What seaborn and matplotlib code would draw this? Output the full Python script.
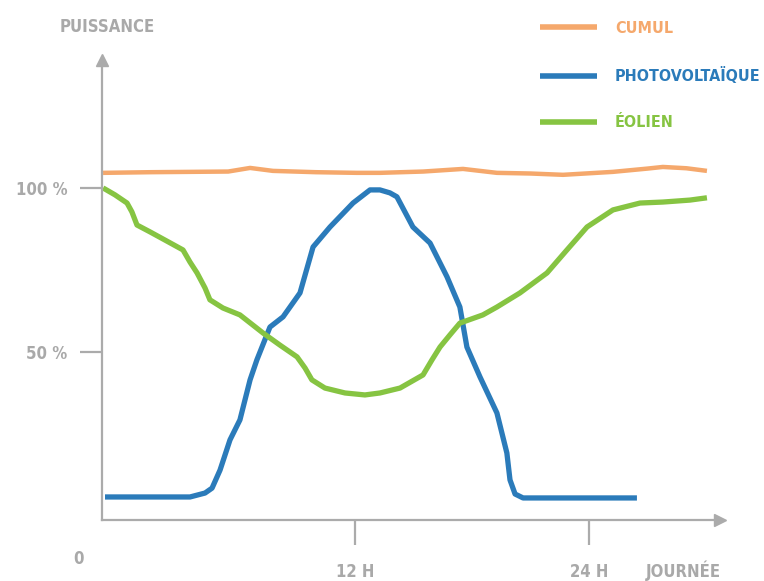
import numpy as np
import matplotlib
matplotlib.use("Agg")
import matplotlib.pyplot as plt
import seaborn as sns

# heures (x) et puissance en % (y)
cumul_h = [-0.92, 1.5, 3.54, 5.5, 6.62, 7.79, 10.0, 12.10, 13.28, 15.5, 17.54, 19.28, 21.0, 22.67, 25.23, 27.0, 27.79, 29.0, 30.05]
cumul_p = [104.6, 104.8, 104.9, 105.0, 106.1, 105.2, 104.8, 104.6, 104.6, 105.0, 105.8, 104.6, 104.4, 104.0, 104.9, 105.9, 106.4, 106.0, 105.2]

pv_h = [-0.82, 3.54, 4.31, 4.67, 5.08, 5.59, 6.10, 6.62, 6.97, 7.64, 8.31, 9.18, 9.85, 10.72,
        11.90, 12.77, 13.28, 13.79, 14.15, 14.97, 15.85, 16.72, 17.38, 17.74, 18.41, 19.28,
        19.79, 19.95, 20.21, 20.62, 26.46]
pv_p = [5.8, 5.8, 7.0, 8.5, 14.0, 23.2, 29.3, 41.5, 47.6, 57.6, 60.7, 68.0, 82.0, 88.1,
        95.4, 99.4, 99.4, 98.5, 97.3, 88.1, 83.2, 72.9, 63.7, 51.5, 42.4, 31.4,
        19.2, 11.0, 6.7, 5.5, 5.5]

eol_h = [-0.92, -0.31, 0.31, 0.56, 0.82, 1.49, 2.26, 3.18, 3.54, 3.90, 4.31, 4.56, 5.23, 6.10,
         7.28, 8.15, 9.03, 9.44, 9.79, 10.46, 11.49, 12.51, 13.28, 14.31, 15.49, 15.95, 16.36,
         16.87, 17.38, 18.56, 19.28, 20.46, 21.85, 22.87, 23.90, 25.23, 26.62, 27.79, 29.18, 30.05]
eol_p = [100.0, 97.9, 95.4, 92.7, 88.7, 86.6, 84.1, 81.1, 77.4, 74.1, 69.5, 65.9, 63.4, 61.3,
         55.8, 52.1, 48.5, 45.1, 41.5, 39.0, 37.5, 36.9, 37.5, 39.0, 43.0, 47.6, 51.5,
         55.2, 58.8, 61.3, 63.7, 68.0, 74.1, 81.1, 88.1, 93.3, 95.4, 95.7, 96.3, 97.0]

x_ticks = [12, 24]
x_labels = ["12 H", "24 H"]
y_ticks = [50, 100]
y_labels = ["50 %", "100 %"]

ORANGE = "#f5a86c"
BLUE = "#2b7bba"
GREEN = "#86c442"
GRAY = "#ababab"
TXT = "#a9a9a9"

sns.set_theme(style="white")
plt.rcParams["font.family"] = ["DejaVu Sans"]
plt.rcParams["font.stretch"] = "condensed"
plt.rcParams["font.weight"] = "bold"
FS = 12

W, H = 764, 581
fig = plt.figure(figsize=(W / 100, H / 100), dpi=100)
ax = fig.add_axes([102 / W, 61 / H, 618 / W, 460 / H])

kw = dict(sort=False, solid_joinstyle="round", solid_capstyle="butt")
sns.lineplot(x=cumul_h, y=cumul_p, ax=ax, color=ORANGE, lw=3.2, label="CUMUL", **kw)
sns.lineplot(x=pv_h, y=pv_p, ax=ax, color=BLUE, lw=3.8, label="PHOTOVOLTAÏQUE", **kw)
sns.lineplot(x=eol_h, y=eol_p, ax=ax, color=GREEN, lw=3.8, label="ÉOLIEN", **kw)

ax.set_xlim(-0.974, 30.72)
ax.set_ylim(-1.22, 139.0)

for s in ["top", "right"]:
    ax.spines[s].set_visible(False)
for s in ["left", "bottom"]:
    ax.spines[s].set_color(GRAY)
    ax.spines[s].set_linewidth(1.6)

ax.set_xticks(x_ticks)
ax.set_xticklabels(x_labels)
ax.set_yticks(y_ticks)
ax.set_yticklabels(y_labels)
ax.tick_params(axis="x", direction="out", length=18, width=1.6, color=GRAY,
               pad=13, labelsize=FS, labelcolor=TXT, bottom=True)
ax.tick_params(axis="y", direction="out", length=16, width=1.6, color=GRAY,
               pad=9, labelsize=FS, labelcolor=TXT, left=True)

# pointes de fleche
ax.plot(1, 0, ">", transform=ax.transAxes, color=GRAY, ms=8, clip_on=False)
ax.plot(0, 1, "^", transform=ax.transAxes, color=GRAY, ms=8, clip_on=False)

fig.text(107 / W, 1 - 27 / H, "PUISSANCE", ha="center", va="center", fontsize=FS, color=TXT, weight="bold")
fig.text(78 / W, 1 - 559 / H, "0", ha="center", va="center", fontsize=FS, color=TXT, weight="bold")
fig.text(683 / W, 1 - 571 / H, "JOURNÉE", ha="center", va="center", fontsize=FS, color=TXT, weight="bold")

LFS = 11.5
leg = ax.legend(loc="upper left", bbox_to_anchor=(540 / W, 1 - 21 / H), bbox_transform=fig.transFigure,
                frameon=False, handlelength=3.55, handletextpad=1.15, labelspacing=1.95,
                borderpad=0, borderaxespad=0, labelcolor="linecolor",
                prop={"size": LFS, "weight": "bold", "stretch": "condensed"})
for line in leg.get_lines():
    line.set_linewidth(4)

fig.savefig("out.png", dpi=100)
